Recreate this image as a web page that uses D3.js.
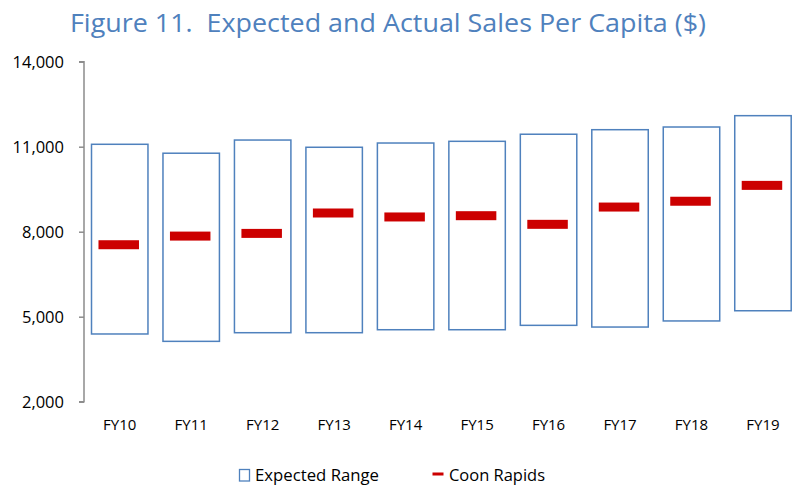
<!DOCTYPE html>
<html><head><meta charset="utf-8">
<script src="https://cdn.jsdelivr.net/npm/d3@7"></script>
<style>body{margin:0;background:#fff}svg{display:block}text{font-family:"Open Sans","Noto Sans",sans-serif;white-space:pre}</style>
</head><body>
<svg id="c" width="793" height="487"></svg>
<script>
const categories = ["FY10","FY11","FY12","FY13","FY14","FY15","FY16","FY17","FY18","FY19"];
const expectedLow  = [4390, 4130, 4435, 4435, 4540, 4540, 4695, 4635, 4850, 5210];
const expectedHigh = [11085, 10770, 11235, 10980, 11130, 11190, 11440, 11600, 11695, 12095];
const actual       = [7540, 7845, 7940, 8660, 8520, 8565, 8260, 8870, 9075, 9635];
const yTicks = [2000, 5000, 8000, 11000, 14000];
const title = "Figure 11.  Expected and Actual Sales Per Capita ($)";
const legendLabels = ["Expected Range", "Coon Rapids"];

const svg = d3.select("#c");
const blue = "#4f81bd", red = "#cc0000";

const x = d3.scaleBand().domain(categories).range([84, 798.7]).paddingInner(0.21).paddingOuter(0.105);
const y = d3.scaleLinear().domain([2000, 14000]).range([401.7, 61.7]);

svg.append("text").attr("x", 70).attr("y", 32)
  .attr("textLength", 636).attr("lengthAdjust","spacingAndGlyphs")
  .attr("fill", blue).style("font-size","25px").text(title);

// y axis
const ya = svg.append("g").attr("transform","translate(84,0)")
  .call(d3.axisLeft(y).tickValues(yTicks).tickSize(5).tickPadding(15).tickFormat(d3.format(",")));
ya.select(".domain").attr("stroke","#8c8c8c").attr("stroke-width",1.5).attr("d","M-5,"+y(14000)+"H0V"+y(2000)+"H-5");
ya.selectAll(".tick line").attr("stroke","#8c8c8c").attr("stroke-width",1.5);
ya.selectAll(".tick text").attr("fill","#000").style("font-size","16.5px").attr("dy","0.35em");

// x labels
svg.append("g").selectAll("text").data(categories).join("text")
  .attr("x", d => x(d) + x.bandwidth()/2).attr("y", 429.5).attr("text-anchor","middle")
  .style("font-size","15px").attr("fill","#000").text(d => d);

// boxes
svg.append("g").selectAll("rect").data(categories).join("rect")
  .attr("x", d => x(d)).attr("width", x.bandwidth())
  .attr("y", (d,i) => y(expectedHigh[i]))
  .attr("height", (d,i) => y(expectedLow[i]) - y(expectedHigh[i]))
  .attr("fill","none").attr("stroke", blue).attr("stroke-width",1.5);

// actual markers
const mw = 40.5;
svg.append("g").selectAll("rect").data(categories).join("rect")
  .attr("x", d => x(d) + x.bandwidth()/2 - mw/2 - 1).attr("width", mw)
  .attr("y", (d,i) => y(actual[i]) - 4.5).attr("height", 9)
  .attr("fill", red);

// legend
const lg = svg.append("g");
lg.append("rect").attr("x",239.5).attr("y",469.5).attr("width",10).attr("height",11.5)
  .attr("fill","none").attr("stroke",blue).attr("stroke-width",1.3);
lg.append("text").attr("x",255).attr("y",481).attr("textLength",124).attr("lengthAdjust","spacingAndGlyphs")
  .style("font-size","16.5px").attr("fill","#000").text(legendLabels[0]);
lg.append("rect").attr("x",432.5).attr("y",472.5).attr("width",11).attr("height",3).attr("fill",red);
lg.append("text").attr("x",449).attr("y",481).attr("textLength",96).attr("lengthAdjust","spacingAndGlyphs")
  .style("font-size","16.5px").attr("fill","#000").text(legendLabels[1]);
</script>
</body></html>
